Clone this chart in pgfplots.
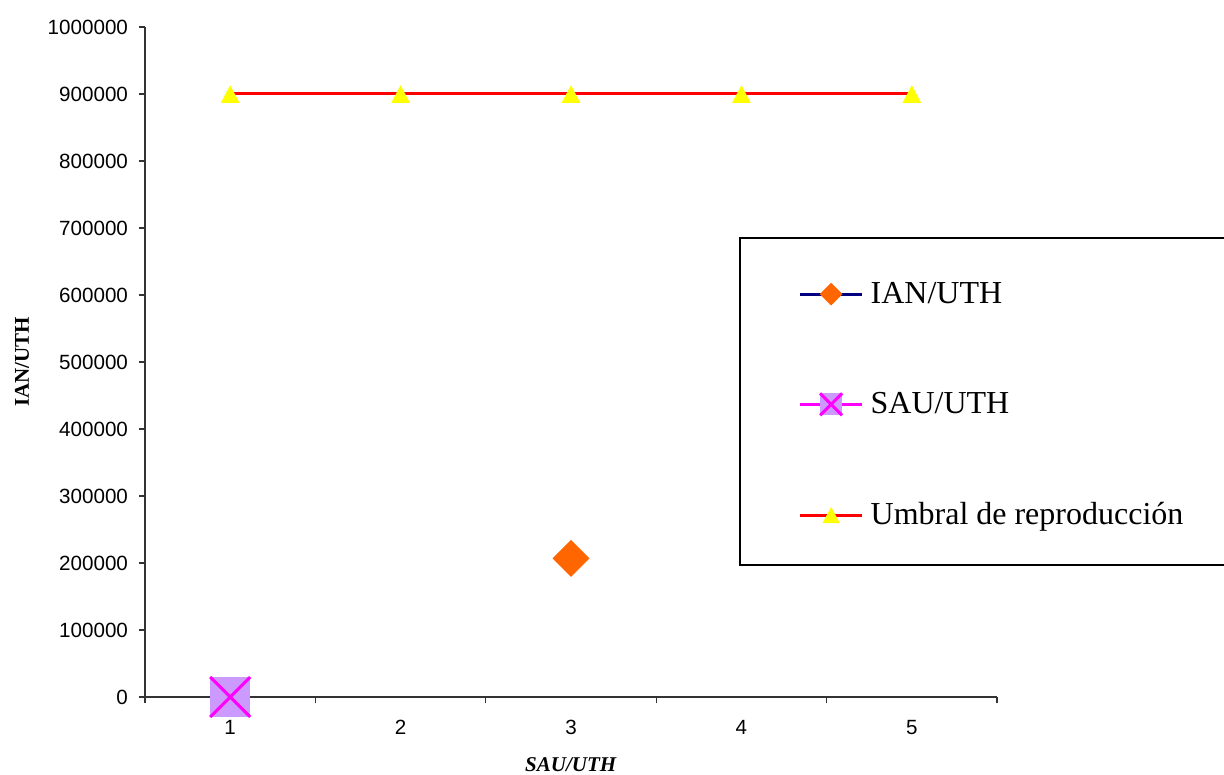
\documentclass[border=0pt]{standalone}
\usepackage{fontspec}
\setmainfont{Liberation Serif}
\newfontfamily\arial{Liberation Sans}
\usepackage{pgfplots}
\pgfplotsset{compat=1.18}
\definecolor{iannavy}{RGB}{0,0,128}
\definecolor{ianorange}{RGB}{255,102,0}
\definecolor{saumag}{RGB}{255,0,255}
\definecolor{saulav}{RGB}{204,153,255}
\definecolor{umbred}{RGB}{255,0,0}
\definecolor{umbyel}{RGB}{255,255,0}
\pgfdeclareplotmark{sqx}{%
 \pgfpathrectangle{\pgfqpoint{-\pgfplotmarksize}{-\pgfplotmarksize}}{\pgfqpoint{2\pgfplotmarksize}{2\pgfplotmarksize}}%
 \pgfusepathqfill
 \pgfpathmoveto{\pgfqpoint{-\pgfplotmarksize}{-\pgfplotmarksize}}\pgfpathlineto{\pgfqpoint{\pgfplotmarksize}{\pgfplotmarksize}}%
 \pgfpathmoveto{\pgfqpoint{-\pgfplotmarksize}{\pgfplotmarksize}}\pgfpathlineto{\pgfqpoint{\pgfplotmarksize}{-\pgfplotmarksize}}%
 \pgfusepathqstroke}
\pgfdeclareplotmark{dmd}{%
 \pgfpathmoveto{\pgfqpoint{0pt}{\pgfplotmarksize}}%
 \pgfpathlineto{\pgfqpoint{\pgfplotmarksize}{0pt}}%
 \pgfpathlineto{\pgfqpoint{0pt}{-\pgfplotmarksize}}%
 \pgfpathlineto{\pgfqpoint{-\pgfplotmarksize}{0pt}}%
 \pgfpathclose\pgfusepathqfill}
\pgfdeclareplotmark{tri}{%
 \pgfpathmoveto{\pgfqpoint{0pt}{\pgfplotmarksize}}%
 \pgfpathlineto{\pgfqpoint{1.06\pgfplotmarksize}{-\pgfplotmarksize}}%
 \pgfpathlineto{\pgfqpoint{-1.06\pgfplotmarksize}{-\pgfplotmarksize}}%
 \pgfpathclose\pgfusepathqfill}
\begin{document}
\begin{tikzpicture}
\begin{axis}[
 width=426pt, height=335pt, scale only axis,
 xmin=0.5, xmax=5.5, ymin=0, ymax=1000000,
 axis x line*=bottom, axis y line*=left,
 axis line style={-, black!80, line width=0.6pt},
 xtick={0.5,1.5,2.5,3.5,4.5,5.5},
 xticklabels={1,2,3,4,5},
 x tick label as interval,
 ytick={0,100000,200000,300000,400000,500000,600000,700000,800000,900000,1000000},
 major tick length=3pt, tick align=outside,
 tick style={black!80, line width=0.6pt},
 scaled y ticks=false,
 yticklabel style={/pgf/number format/fixed, /pgf/number format/1000 sep={}, xshift=-2pt},
 /pgf/number format/assume math mode=true,
 tick label style={font=\arial\fontsize{10.3}{12}\selectfont},
 xticklabel style={yshift=-5pt},
 xlabel={\textbf{\textit{SAU/UTH}}}, ylabel={\textbf{IAN/UTH}},
 label style={font=\fontsize{10.5}{12}\selectfont},
 xlabel style={at={(axis description cs:0.5,-0.1015)}, anchor=center},
 ylabel style={at={(axis description cs:-0.1444,0.5)}, anchor=center},
 clip=false,
 legend image code/.code={\draw[mark repeat=2,mark phase=2] plot coordinates {(0cm,0cm) (0.545cm,0cm) (1.09cm,0cm)};},
 legend cell align=left,
 legend style={draw=none, fill=none, inner sep=0pt, at={(rel axis cs:0.7667,0.436)}, anchor=west,
   row sep=39pt, font=\fontsize{16}{19}\selectfont,
   /tikz/every even column/.append style={column sep=0pt}},
]
\coordinate (o) at (rel axis cs:0,0);
\draw[black, line width=0.6pt] (rel axis cs:0.6984,0.6851) rectangle (rel axis cs:1.35,0.197);
\addplot[iannavy, line width=1.5pt, mark=dmd, mark size=9.25pt, mark options={fill=ianorange},
  legend image post style={mark size=5.7pt}] coordinates {(3,207000)};
\addlegendentry{\hspace{1.5pt}IAN/UTH}
\addplot[saumag, line width=1.5pt, mark=sqx, mark size=10pt, mark options={fill=saulav, draw=saumag},
  legend image post style={mark size=5.5pt}] coordinates {(1,0)};
\addlegendentry{\hspace{1.5pt}SAU/UTH}
\addplot[umbred, line width=1.5pt, mark=tri, mark size=4.4pt, mark options={fill=umbyel, draw=umbyel},
  legend image post style={mark size=4.1pt}] coordinates {(1,900000) (2,900000) (3,900000) (4,900000) (5,900000)};
\addlegendentry{\hspace{1.5pt}Umbral de reproducción}
\end{axis}
\pgfresetboundingbox
\path[use as bounding box] ([xshift=-72.5pt,yshift=-39pt]o) rectangle ++(612pt,387.5pt);
\end{tikzpicture}
\end{document}
